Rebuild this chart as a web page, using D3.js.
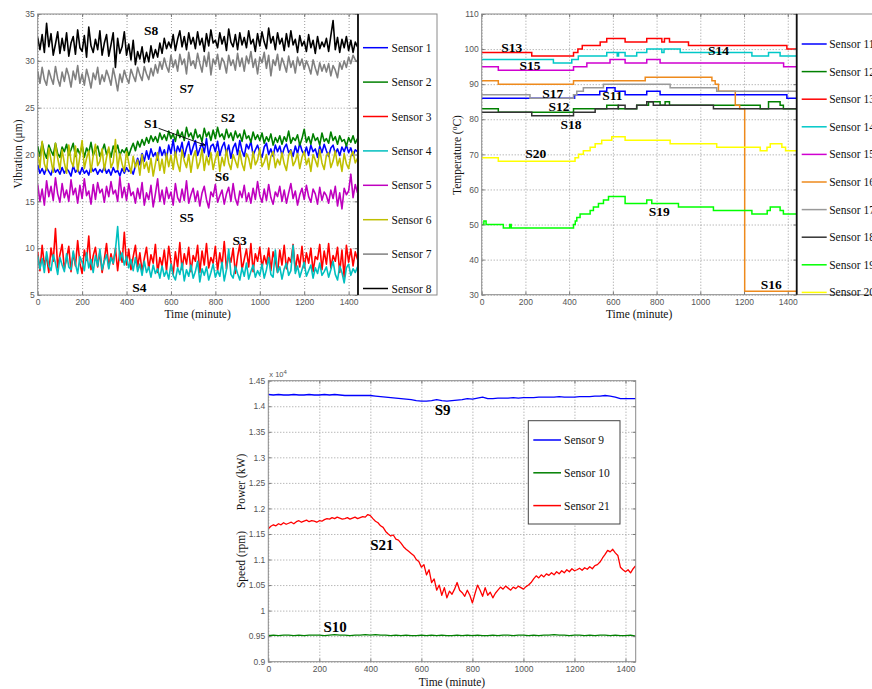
<!DOCTYPE html>
<html>
<head>
<meta charset="utf-8">
<script src="https://cdn.jsdelivr.net/npm/d3@7"></script>
<style>
body { margin: 0; background: #fff; }
svg { display: block; }
.grid line { stroke: #9a9a9a; stroke-dasharray: 1,2; }
.grid path { display: none; }
.axis path { display: none; }
.axis line { stroke: #777; }
.axis text { font: 8.5px "Liberation Sans", Arial, sans-serif; fill: #555; }
.axis-title { font: 11.5px "Liberation Serif", "Times New Roman", serif; fill: #111; }
.legend-text { font: 11.5px "Liberation Serif", "Times New Roman", serif; fill: #111; }
.note { font: bold 13.5px "Liberation Serif", "Times New Roman", serif; fill: #000; }
</style>
</head>
<body>
<svg id="chart" width="872" height="689"></svg>
<script>
'use strict';

// sampling interval (minutes) of the noisy series
const VIB_STEP = 10;
const SPEED_STEP = 10;
const POWER_STEP = 20;

const timeTicks = [0, 200, 400, 600, 800, 1000, 1200, 1400];
const vibTicks = [5, 10, 15, 20, 25, 30, 35];
const tempTicks = [30, 40, 50, 60, 70, 80, 90, 100, 110];
const powerTicks = [0.9, 0.95, 1, 1.05, 1.1, 1.15, 1.2, 1.25, 1.3, 1.35, 1.4, 1.45];

// vibration (um), one value every 10 minutes
const sensor1 = [
    18.9, 18.0, 18.5, 17.9, 18.6, 18.2, 17.8, 18.7, 18.1, 18.4,
    17.9, 18.6, 18.0, 18.5, 18.2, 17.7, 18.8, 18.1, 18.4, 17.9,
    18.6, 18.0, 18.3, 17.8, 18.7, 18.2, 18.5, 17.9, 18.4, 18.1,
    18.7, 18.0, 18.4, 17.8, 18.6, 18.1, 18.3, 17.7, 18.5, 18.0,
    18.6, 18.2, 18.4, 17.9, 18.8, 19.6, 18.9, 20.1, 19.3, 20.4,
    19.5, 20.6, 19.8, 20.2, 19.4, 20.8, 19.9, 20.5, 19.6, 21.0,
    20.1, 21.6, 19.8, 20.9, 20.3, 21.3, 19.7, 20.7, 21.4, 20.0,
    20.8, 21.5, 19.9, 20.6, 21.2, 20.2, 21.7, 19.8, 20.9, 21.1,
    20.3, 21.4, 19.9, 20.8, 21.3, 20.1, 21.0, 19.6, 20.7, 21.2,
    20.0, 21.5, 20.4, 19.8, 21.1, 20.6, 21.4, 19.9, 20.5, 21.0,
    20.2, 19.7, 20.8, 21.2, 20.0, 20.6, 19.8, 21.0, 20.3, 20.9,
    19.9, 20.7, 21.1, 20.2, 20.5, 19.8, 20.9, 20.1, 21.2, 20.4,
    20.0, 20.8, 19.9, 21.0, 20.3, 20.6, 19.7, 20.9, 20.2, 21.1,
    20.4, 19.8, 20.7, 21.0, 20.1, 20.6, 19.9, 20.8, 20.3, 21.0,
    20.2, 20.7, 19.9, 20.5, 20.3
];
const sensor2 = [
    20.9, 19.8, 21.3, 20.2, 19.6, 21.0, 20.4, 19.9, 21.2, 20.1,
    19.7, 20.8, 20.3, 21.1, 19.9, 20.5, 21.2, 19.8, 20.6, 20.0,
    21.0, 19.7, 20.7, 20.2, 21.3, 19.9, 20.5, 20.9, 19.8, 20.4,
    21.1, 20.0, 20.6, 19.7, 20.9, 20.3, 21.0, 19.9, 20.5, 20.2,
    20.7, 19.9, 20.6, 21.2, 20.4, 21.4, 20.8, 21.6, 21.0, 21.8,
    21.2, 22.0, 21.4, 21.9, 21.3, 22.3, 21.6, 22.1, 21.5, 22.5,
    21.7, 22.2, 21.4, 22.6, 21.8, 22.4, 21.5, 22.9, 21.9, 22.3,
    21.6, 22.7, 21.8, 22.1, 21.4, 22.8, 21.9, 22.4, 21.5, 22.6,
    21.7, 22.9, 21.9, 22.2, 21.6, 22.7, 21.8, 22.3, 21.5, 22.5,
    21.8, 22.2, 21.4, 22.6, 21.7, 22.0, 21.3, 22.4, 21.6, 22.1,
    21.5, 22.3, 21.2, 21.9, 21.4, 22.2, 21.0, 21.8, 21.3, 22.0,
    21.1, 21.9, 21.4, 22.5, 21.2, 21.8, 21.5, 22.1, 21.0, 21.7,
    22.7, 21.3, 21.9, 21.1, 22.2, 21.5, 21.8, 21.0, 22.3, 21.4,
    21.7, 21.2, 22.4, 21.5, 21.9, 21.1, 22.0, 21.4, 21.6, 20.9,
    21.8, 21.3, 22.0, 21.2, 21.7
];
const sensor3 = [
    9.6, 7.6, 10.3, 8.2, 9.1, 7.4, 10.0, 8.6, 12.1, 7.9,
    9.3, 10.4, 7.8, 8.9, 10.2, 7.5, 9.5, 8.1, 10.8, 8.4,
    7.3, 9.8, 8.7, 11.3, 7.7, 9.2, 10.1, 8.0, 9.6, 7.4,
    8.8, 10.5, 7.9, 9.4, 8.3, 10.0, 7.6, 9.7, 8.5, 11.7,
    8.2, 9.9, 7.7, 9.1, 10.3, 8.0, 9.5, 7.5, 8.9, 10.1,
    7.8, 9.3, 8.4, 10.4, 7.4, 9.0, 8.1, 9.8, 7.6, 10.2,
    8.5, 7.2, 9.6, 8.0, 10.6, 7.7, 9.4, 8.3, 10.1, 7.5,
    9.2, 8.6, 10.3, 7.4, 9.7, 8.2, 10.5, 7.9, 9.0, 8.4,
    10.2, 7.6, 9.5, 8.1, 10.7, 7.8, 9.3, 8.5, 10.0, 7.3,
    9.1, 10.4, 7.7, 8.8, 9.9, 8.0, 10.5, 7.5, 9.4, 8.6,
    10.1, 7.9, 9.2, 8.3, 10.0, 7.6, 9.6, 8.7, 7.4, 9.8,
    8.2, 10.3, 7.8, 9.0, 8.5, 10.4, 7.6, 9.3, 8.0, 10.2,
    7.9, 9.5, 8.4, 10.0, 7.5, 9.1, 8.8, 10.4, 7.7, 9.7,
    8.3, 10.5, 7.9, 9.2, 8.6, 10.1, 7.4, 9.8, 6.9, 10.3,
    8.5, 9.9, 8.1, 9.6, 8.8
];
const sensor4 = [
    9.2, 7.8, 8.9, 7.4, 9.6, 8.1, 7.6, 9.3, 8.4, 7.2,
    9.0, 8.2, 7.5, 9.4, 8.0, 7.7, 9.7, 8.3, 7.3, 9.1,
    8.5, 7.6, 9.5, 7.9, 8.8, 7.4, 9.2, 8.1, 9.9, 7.7,
    8.6, 9.3, 7.8, 9.0, 8.4, 9.8, 12.3, 8.7, 9.5, 8.2,
    9.1, 7.9, 8.8, 7.6, 9.0, 7.5, 8.3, 7.1, 8.6, 7.4,
    8.0, 6.9, 8.2, 7.3, 7.8, 6.8, 8.1, 7.0, 7.6, 6.7,
    8.3, 7.1, 6.6, 7.9, 7.2, 8.4, 6.5, 7.7, 7.0, 8.2,
    6.8, 7.5, 8.6, 6.4, 7.8, 7.1, 8.0, 6.6, 7.4, 8.3,
    6.9, 7.6, 7.0, 8.5, 6.5, 7.7, 9.9, 7.2, 6.8, 8.1,
    7.3, 6.6, 7.9, 7.0, 8.4, 6.7, 7.5, 8.2, 6.9, 7.6,
    7.1, 8.3, 6.8, 7.7, 9.0, 7.2, 6.9, 9.8, 7.4, 8.0,
    6.7, 7.8, 8.4, 7.1, 7.6, 10.3, 7.3, 8.1, 6.9, 7.7,
    8.5, 7.0, 7.6, 8.2, 6.8, 7.9, 7.3, 8.4, 7.1, 7.5,
    8.0, 6.9, 7.7, 8.6, 7.2, 6.6, 8.1, 7.4, 6.3, 7.9,
    8.3, 7.1, 7.8, 7.4, 8.0
];
const sensor5 = [
    16.8, 15.0, 16.3, 14.6, 17.2, 15.5, 16.6, 15.1, 17.5, 15.8,
    14.9, 16.9, 15.4, 16.2, 15.0, 17.3, 15.7, 16.4, 14.8, 16.7,
    15.3, 17.4, 15.6, 16.1, 14.7, 16.8, 15.2, 17.0, 15.9, 16.3,
    14.9, 16.6, 15.5, 17.1, 15.8, 16.2, 15.0, 17.6, 15.4, 16.5,
    15.1, 16.9, 15.6, 16.0, 14.8, 16.4, 15.3, 17.0, 14.6, 15.9,
    15.2, 16.7, 14.4, 15.8, 17.4, 15.0, 16.2, 14.7, 16.5, 15.3,
    16.0, 14.6, 16.9, 15.4, 14.9, 16.3, 15.1, 17.2, 14.8, 15.7,
    16.4, 15.0, 16.1, 14.5, 15.9, 16.6, 15.2, 14.3, 16.0, 15.5,
    16.8, 14.9, 15.6, 16.2, 14.7, 15.8, 16.5, 15.0, 16.9, 15.3,
    14.6, 16.1, 15.4, 16.7, 15.0, 15.9, 14.8, 16.4, 15.2, 17.1,
    15.6, 14.9, 16.3, 15.1, 16.8, 15.4, 14.7, 16.0, 15.5, 16.6,
    15.0, 16.2, 14.8, 15.9, 16.9, 15.3, 16.1, 14.6, 15.7, 16.4,
    15.2, 16.7, 15.5, 14.9, 16.3, 15.8, 14.7, 16.5, 15.1, 16.0,
    15.6, 14.8, 16.2, 15.3, 16.6, 14.5, 15.9, 14.2, 16.4, 15.7,
    16.1, 17.9, 15.4, 16.8, 15.9
];
const sensor6 = [
    20.2, 18.6, 21.4, 19.0, 18.3, 20.7, 19.4, 18.1, 21.2, 19.6,
    18.4, 20.5, 19.1, 18.0, 21.0, 19.3, 18.7, 20.9, 18.2, 19.8,
    21.5, 18.5, 19.6, 20.4, 18.1, 19.9, 21.1, 18.8, 19.3, 20.6,
    18.3, 19.7, 20.8, 18.6, 19.2, 21.6, 18.4, 20.1, 19.0, 18.2,
    20.3, 19.1, 18.0, 19.8, 18.6, 19.4, 17.8, 20.0, 18.5, 19.2,
    18.1, 19.6, 17.7, 19.0, 20.2, 18.3, 19.5, 18.0, 20.1, 18.7,
    19.9, 18.4, 20.3, 19.0, 18.2, 20.5, 19.3, 18.6, 20.0, 18.1,
    19.7, 20.4, 18.5, 19.2, 20.6, 18.3, 19.8, 18.9, 20.2, 18.4,
    19.5, 20.3, 18.2, 19.7, 18.8, 20.5, 19.1, 18.4, 20.0, 19.3,
    18.6, 20.4, 19.0, 18.3, 20.1, 19.6, 18.5, 20.3, 18.9, 19.4,
    20.6, 18.7, 19.2, 20.0, 18.4, 19.8, 20.3, 18.6, 19.5, 18.9,
    20.2, 19.0, 18.3, 19.9, 20.4, 18.8, 19.3, 20.1, 18.5, 19.7,
    20.3, 18.9, 19.6, 18.2, 20.0, 19.4, 18.7, 20.5, 19.1, 18.4,
    19.9, 20.2, 18.6, 19.3, 20.4, 18.8, 19.6, 18.2, 20.1, 19.0,
    18.5, 19.8, 20.3, 19.1, 19.6
];
const sensor7 = [
    28.9, 27.6, 29.3, 28.0, 27.4, 29.0, 28.2, 27.5, 29.4, 28.1,
    27.3, 28.8, 27.8, 29.2, 28.4, 27.2, 28.9, 28.0, 29.5, 27.6,
    28.6, 27.4, 29.1, 28.2, 27.1, 28.7, 28.0, 29.3, 27.5, 28.5,
    27.8, 29.0, 28.3, 27.4, 29.2, 28.1, 26.8, 28.6, 27.7, 29.0,
    28.2, 27.6, 29.1, 28.4, 27.8, 29.3, 28.5, 27.9, 29.4, 28.6,
    28.0, 29.2, 28.4, 29.6, 28.7, 29.9, 29.1, 30.3, 29.4, 28.8,
    30.6, 29.3, 30.1, 28.9, 30.7, 29.6, 30.2, 28.6, 30.9, 29.5,
    30.0, 29.2, 30.8, 29.7, 28.8, 30.5, 29.4, 30.9, 28.5, 30.2,
    29.6, 30.7, 29.1, 30.3, 29.8, 28.7, 30.6, 29.5, 30.1, 29.0,
    30.8, 29.4, 30.3, 28.9, 30.5, 29.7, 31.0, 29.3, 30.2, 28.6,
    30.4, 29.8, 30.9, 29.2, 30.6, 28.4, 30.1, 29.5, 30.7, 29.0,
    30.3, 29.6, 28.8, 30.5, 29.3, 30.0, 28.7, 30.4, 29.5, 30.2,
    29.1, 30.0, 29.4, 28.6, 30.1, 29.2, 28.5, 29.8, 28.9, 29.6,
    28.8, 29.7, 28.4, 29.5, 29.0, 28.2, 29.8, 29.1, 30.0, 29.3,
    30.4, 29.7, 30.6, 30.1, 29.9
];
const sensor8 = [
    32.5, 31.2, 32.8, 30.9, 34.0, 31.5, 32.9, 30.6, 31.8, 33.1,
    30.8, 32.4, 31.1, 33.0, 30.5, 31.9, 32.6, 30.7, 33.3, 31.4,
    31.0, 32.7, 30.4, 33.6, 31.6, 30.9, 32.3, 31.2, 33.2, 30.6,
    31.9, 32.8, 30.5, 31.7, 33.0, 29.3, 32.4, 30.8, 31.5, 33.1,
    30.6, 31.8, 30.1, 32.2, 29.6, 31.0, 30.2, 31.5, 29.8, 30.9,
    29.9, 31.6, 30.3, 31.2, 30.4, 31.9, 30.8, 32.4, 31.3, 32.0,
    31.4, 32.8, 31.1, 32.3, 33.2, 31.5, 32.6, 31.2, 33.0, 31.8,
    32.5, 31.3, 33.1, 31.7, 32.4, 31.0, 32.9, 31.6, 33.3, 31.9,
    32.2, 31.4, 33.0, 31.8, 32.6, 31.1, 33.4, 32.0, 31.5, 32.8,
    31.2, 33.0, 31.7, 32.5, 31.4, 33.2, 31.8, 32.3, 31.0, 32.9,
    31.6, 33.1, 32.0, 31.3, 33.5, 31.9, 32.6, 31.2, 33.0, 31.8,
    32.4, 31.1, 32.9, 31.5, 33.2, 31.7, 32.3, 30.9, 32.7, 31.6,
    32.1, 31.0, 32.8, 31.4, 32.2, 30.8, 32.6, 31.3, 32.0, 31.5,
    32.4, 31.0, 32.7, 34.3, 31.2, 32.5, 30.9, 32.3, 31.4, 32.6,
    31.1, 32.2, 30.9, 32.0, 31.5
];

// temperature (deg C) steps: [minute, value]
const sensor11 = [[0, 86], [425, 87], [540, 88], [572, 89], [610, 88], [656, 87], [755, 88], [816, 87], [1396, 86], [1440, 86]];
const sensor12 = [[0, 83], [76, 82], [420, 83], [572, 84], [625, 83], [709, 84], [763, 85], [816, 84], [839, 85], [859, 84], [1274, 83], [1312, 85], [1365, 84], [1380, 83], [1440, 83]];
const sensor13 = [[0, 99], [229, 98], [420, 99], [440, 100], [460, 101], [542, 102], [572, 103], [656, 102], [755, 103], [824, 102], [836, 103], [859, 102], [946, 101], [1396, 100], [1440, 100]];
const sensor14 = [[0, 97], [328, 96], [412, 97], [442, 98], [572, 99], [620, 98], [626, 99], [656, 98], [709, 99], [755, 100], [824, 99], [834, 100], [908, 99], [1236, 98], [1312, 99], [1365, 98], [1440, 98]];
const sensor15 = [[0, 95], [76, 94], [420, 95], [481, 96], [587, 97], [656, 96], [755, 97], [816, 96], [1381, 95], [1440, 95]];
const sensor16 = [[0, 91], [76, 90], [420, 91], [748, 92], [1053, 91], [1068, 90], [1083, 88], [1160, 84], [1180, 83], [1203, 31], [1440, 31]];
const sensor17 = [[0, 87], [221, 86], [420, 87], [435, 88], [465, 89], [557, 90], [862, 89], [1075, 88], [1440, 88]];
const sensor18 = [[0, 82], [229, 81], [420, 82], [519, 83], [625, 84], [656, 83], [709, 84], [755, 85], [785, 84], [1060, 83], [1440, 83]];
const sensor19 = [[0, 50], [10, 51], [20, 50], [99, 49], [128, 50], [135, 49], [420, 50], [428, 51], [435, 52], [450, 53], [496, 54], [511, 55], [534, 56], [557, 57], [580, 58], [656, 56], [755, 57], [778, 56], [900, 55], [1060, 54], [1236, 53], [1306, 54], [1320, 55], [1365, 54], [1380, 53], [1440, 53]];
const sensor20 = [[0, 69], [76, 68], [427, 69], [443, 70], [465, 71], [496, 72], [519, 73], [549, 74], [595, 75], [656, 74], [862, 73], [1075, 72], [1274, 71], [1305, 72], [1320, 73], [1373, 72], [1390, 71], [1440, 71]];

// power / speed (x 10^4)
const sensor9 = [
    1.423, 1.422, 1.423, 1.422, 1.422, 1.423, 1.422, 1.422, 1.423, 1.422,
    1.422, 1.423, 1.422, 1.423, 1.422, 1.421, 1.421, 1.421, 1.421, 1.421,
    1.421, 1.420, 1.419, 1.418, 1.417, 1.416, 1.415, 1.414, 1.413, 1.411,
    1.410, 1.410, 1.411, 1.413, 1.411, 1.410, 1.411, 1.412, 1.413, 1.415,
    1.414, 1.416, 1.418, 1.415, 1.415, 1.416, 1.416, 1.416, 1.417, 1.416,
    1.417, 1.417, 1.417, 1.418, 1.418, 1.418, 1.418, 1.419, 1.418, 1.418,
    1.418, 1.419, 1.419, 1.419, 1.420, 1.420, 1.421, 1.420, 1.418, 1.415,
    1.415, 1.415, 1.415
];
const sensor10 = [
    0.951, 0.952, 0.951, 0.952, 0.952, 0.951, 0.952, 0.951, 0.952, 0.952,
    0.952, 0.951, 0.952, 0.953, 0.952, 0.952, 0.951, 0.952, 0.952, 0.953,
    0.952, 0.953, 0.952, 0.952, 0.951, 0.952, 0.951, 0.952, 0.951, 0.951,
    0.952, 0.951, 0.952, 0.951, 0.952, 0.951, 0.951, 0.952, 0.951, 0.952,
    0.951, 0.952, 0.951, 0.951, 0.952, 0.951, 0.952, 0.952, 0.951, 0.952,
    0.952, 0.951, 0.952, 0.951, 0.952, 0.952, 0.953, 0.952, 0.952, 0.951,
    0.952, 0.952, 0.951, 0.952, 0.951, 0.952, 0.952, 0.951, 0.952, 0.951,
    0.951, 0.952, 0.950
];
const sensor21 = [
    1.160, 1.165, 1.168, 1.166, 1.170, 1.168, 1.172, 1.169, 1.171, 1.173,
    1.170, 1.174, 1.176, 1.173, 1.175, 1.177, 1.174, 1.176, 1.175, 1.173,
    1.176, 1.175, 1.178, 1.180, 1.179, 1.182, 1.180, 1.183, 1.181, 1.179,
    1.180, 1.182, 1.179, 1.181, 1.183, 1.180, 1.182, 1.184, 1.183, 1.188,
    1.186, 1.180, 1.175, 1.172, 1.166, 1.163, 1.155, 1.150, 1.146, 1.148,
    1.140, 1.138, 1.132, 1.125, 1.120, 1.116, 1.112, 1.108, 1.100, 1.096,
    1.085, 1.090, 1.070, 1.080, 1.055, 1.062, 1.040, 1.050, 1.030, 1.045,
    1.025, 1.038, 1.032, 1.042, 1.055, 1.040, 1.035, 1.028, 1.040, 1.030,
    1.015, 1.033, 1.050, 1.040, 1.028, 1.045, 1.030, 1.036, 1.025, 1.034,
    1.040, 1.046, 1.042, 1.048, 1.044, 1.040, 1.046, 1.043, 1.048, 1.045,
    1.042, 1.047, 1.050, 1.055, 1.062, 1.068, 1.064, 1.070, 1.066, 1.072,
    1.069, 1.074, 1.070, 1.076, 1.072, 1.078, 1.074, 1.080, 1.076, 1.082,
    1.078, 1.080, 1.083, 1.079, 1.084, 1.081, 1.086, 1.082, 1.088, 1.090,
    1.095, 1.103, 1.110, 1.118, 1.115, 1.120, 1.113, 1.108, 1.085, 1.080,
    1.076, 1.080, 1.074, 1.082, 1.088
];

const vibNames = ['Sensor 1', 'Sensor 2', 'Sensor 3', 'Sensor 4', 'Sensor 5', 'Sensor 6', 'Sensor 7', 'Sensor 8'];
const vibColors = ['#0000ff', '#008000', '#ff0000', '#00bfbf', '#bf00bf', '#bfbf00', '#808080', '#000000'];
const tempNames = ['Sensor 11', 'Sensor 12', 'Sensor 13', 'Sensor 14', 'Sensor 15', 'Sensor 16', 'Sensor 17', 'Sensor 18', 'Sensor 19', 'Sensor 20'];
const tempColors = ['#0000ff', '#008000', '#ff0000', '#00c8c8', '#d000d0', '#ee8a1c', '#999999', '#333333', '#00ff00', '#ffff00'];
const powerNames = ['Sensor 9', 'Sensor 10', 'Sensor 21'];
const powerColors = ['#0000ff', '#008000', '#ff0000'];

// labels: [text, minute, value]
const vibNotes = [['S8', 511, 33.3], ['S7', 671, 27.05], ['S1', 511, 23.3], ['S2', 856, 24.0], ['S6', 829, 17.7], ['S5', 671, 13.3], ['S3', 909, 10.85], ['S4', 458, 5.8]];
const tempNotes = [['S13', 137, 100.4], ['S15', 221, 95.5], ['S14', 1083, 99.7], ['S17', 325, 87.4], ['S11', 598, 86.9], ['S12', 354, 83.6], ['S18', 409, 78.6], ['S20', 247, 70.3], ['S19', 812, 53.8], ['S16', 1324, 33.0]];
const powerNotes = [['S9', 683, 1.3926], ['S21', 445, 1.1297], ['S10', 262, 0.9685]];

const svg = d3.select('#chart');
let clipCount = 0;

init();

function init() {
    svg.append('defs').append('marker')
        .attr('id', 'arrow')
        .attr('viewBox', '0 0 10 10')
        .attr('refX', 10).attr('refY', 5)
        .attr('markerWidth', 6).attr('markerHeight', 6)
        .attr('orient', 'auto')
        .append('path').attr('d', 'M0,1L10,5L0,9').attr('fill', 'none').attr('stroke', '#000').attr('stroke-width', 1.4);

    vibrationPanel();
    temperaturePanel();
    powerPanel();
}

function vibrationPanel() {
    const box = {left: 37.7, right: 357.5, top: 14, bottom: 295};
    const p = frame(box, [5, 35], vibTicks, d => d);
    const series = [sensor1, sensor2, sensor3, sensor4, sensor5, sensor6, sensor7, sensor8];

    series.forEach((values, i) => sampledLine(p, values, VIB_STEP, vibColors[i], 1.6));
    notes(p, vibNotes, 13.5);

    // arrow from the S1 label to its trace
    p.top.append('line')
        .attr('x1', p.x(544)).attr('y1', p.y(22.8))
        .attr('x2', p.x(754)).attr('y2', p.y(21.0))
        .attr('stroke', '#000').attr('stroke-width', 0.9)
        .attr('marker-end', 'url(#arrow)');

    legend({x: 358, y: 14, w: 79, h: 281, rowY: 33.7, gap: 34.4, lineFrom: 5, lineTo: 30, textAt: 33.5, darkLeft: true},
        vibNames, vibColors);

    axisTitles(box, 'Vibration (\u03bcm)', 21.5, 154, 318);
}

function temperaturePanel() {
    const box = {left: 481.7, right: 796.5, top: 14, bottom: 294.7};
    const p = frame(box, [30, 110], tempTicks, d => d);
    const series = [sensor11, sensor12, sensor13, sensor14, sensor15, sensor16, sensor17, sensor18, sensor19, sensor20];

    series.forEach((points, i) => stepLine(p, points, tempColors[i]));
    notes(p, tempNotes, 13.5);

    legend({x: 796.7, y: 14, w: 100, h: 280.7, rowY: 30, gap: 27.6, lineFrom: 5, lineTo: 30, textAt: 32.5, darkLeft: true},
        tempNames, tempColors);

    axisTitles(box, null, 461, 155, 318);
    const t = svg.append('text')
        .attr('class', 'axis-title')
        .attr('text-anchor', 'middle')
        .attr('transform', 'translate(461,155) rotate(-90)');
    t.append('tspan').text('Temperature (');
    t.append('tspan').attr('baseline-shift', 'super').attr('font-size', '7.5px').text('o');
    t.append('tspan').text('C)');
}

function powerPanel() {
    const box = {left: 268.3, right: 635.7, top: 380.7, bottom: 661.7};
    const p = frame(box, [0.9, 1.45], powerTicks, d => String(+d.toFixed(2)));

    sampledLine(p, sensor9, POWER_STEP, powerColors[0], 1.3);
    sampledLine(p, sensor10, POWER_STEP, powerColors[1], 1.1);
    sampledLine(p, sensor21, SPEED_STEP, powerColors[2], 1.3);
    notes(p, powerNotes, 15);

    legend({x: 528.3, y: 420.7, w: 91.7, h: 103.3, rowY: 19.3, gap: 32.8, lineFrom: 5, lineTo: 32.7, textAt: 35.7, darkLeft: false},
        powerNames, powerColors);

    axisTitles(box, null, 0, 0, 685.5);
    [['Power (kW)', 482], ['Speed (rpm)', 559.5]].forEach(([label, cy]) => {
        svg.append('text')
            .attr('class', 'axis-title')
            .attr('text-anchor', 'middle')
            .attr('transform', `translate(245,${cy}) rotate(-90)`)
            .text(label);
    });

    const exp = svg.append('text')
        .attr('x', box.left + 1).attr('y', box.top - 4)
        .attr('font-family', '"Liberation Sans", Arial, sans-serif')
        .attr('font-size', '7.5px').attr('fill', '#555');
    exp.append('tspan').text('x 10');
    exp.append('tspan').attr('dy', -3).attr('font-size', '6px').text('4');
}

function frame(box, yDomain, yTicks, yFormat) {
    const x = d3.scaleLinear().domain([0, 1440]).range([box.left, box.right]);
    const y = d3.scaleLinear().domain(yDomain).range([box.bottom, box.top]);
    const w = box.right - box.left;
    const h = box.bottom - box.top;
    const id = `clip-${++clipCount}`;

    svg.select('defs').append('clipPath').attr('id', id)
        .append('rect').attr('x', box.left).attr('y', box.top).attr('width', w).attr('height', h);

    // dotted grid
    svg.append('g').attr('class', 'grid')
        .attr('transform', `translate(0,${box.bottom})`)
        .call(d3.axisBottom(x).tickValues(timeTicks).tickSize(-h).tickFormat(''));
    svg.append('g').attr('class', 'grid')
        .attr('transform', `translate(${box.left},0)`)
        .call(d3.axisLeft(y).tickValues(yTicks).tickSize(-w).tickFormat(''));

    const plot = svg.append('g').attr('clip-path', `url(#${id})`);
    const top = svg.append('g');

    top.append('g').attr('class', 'axis')
        .attr('transform', `translate(0,${box.bottom})`)
        .call(d3.axisBottom(x).tickValues(timeTicks).tickSize(-3).tickPadding(4).tickFormat(d => String(d)));
    top.append('g').attr('class', 'axis')
        .attr('transform', `translate(0,${box.top})`)
        .call(d3.axisTop(x).tickValues(timeTicks).tickSize(-3).tickFormat(''));
    top.append('g').attr('class', 'axis')
        .attr('transform', `translate(${box.left},0)`)
        .call(d3.axisLeft(y).tickValues(yTicks).tickSize(-3).tickPadding(3).tickFormat(yFormat));
    top.append('g').attr('class', 'axis')
        .attr('transform', `translate(${box.right},0)`)
        .call(d3.axisRight(y).tickValues(yTicks).tickSize(-3).tickFormat(''));

    top.append('rect')
        .attr('x', box.left).attr('y', box.top).attr('width', w).attr('height', h)
        .attr('fill', 'none').attr('stroke', '#8a8a8a').attr('stroke-width', 1);

    return {x, y, plot, top};
}

function sampledLine(p, values, step, color, width) {
    const line = d3.line()
        .x((d, i) => p.x(i * step))
        .y(d => p.y(d));

    p.plot.append('path')
        .datum(values)
        .attr('d', line)
        .attr('fill', 'none')
        .attr('stroke', color)
        .attr('stroke-width', width)
        .attr('stroke-linejoin', 'round');
}

function stepLine(p, points, color) {
    const line = d3.line()
        .x(d => p.x(d[0]))
        .y(d => p.y(d[1]))
        .curve(d3.curveStepAfter);

    p.plot.append('path')
        .datum(points)
        .attr('d', line)
        .attr('fill', 'none')
        .attr('stroke', color)
        .attr('stroke-width', 1.5);
}

function notes(p, list, size) {
    p.top.selectAll(null).data(list).enter().append('text')
        .attr('class', 'note')
        .style('font-size', `${size}px`)
        .attr('x', d => p.x(d[1]))
        .attr('y', d => p.y(d[2]))
        .attr('dy', '0.35em')
        .attr('text-anchor', 'middle')
        .text(d => d[0]);
}

function legend(cfg, names, colors) {
    const g = svg.append('g').attr('transform', `translate(${cfg.x},${cfg.y})`);

    g.append('rect')
        .attr('width', cfg.w).attr('height', cfg.h)
        .attr('fill', '#fff')
        .attr('stroke', cfg.darkLeft ? '#8a8a8a' : '#444')
        .attr('stroke-width', 1);

    if (cfg.darkLeft) {
        g.append('line')
            .attr('x1', 0).attr('x2', 0).attr('y1', 0).attr('y2', cfg.h)
            .attr('stroke', '#111').attr('stroke-width', 1.8);
    }

    const rows = g.selectAll(null).data(names).enter().append('g')
        .attr('transform', (d, i) => `translate(0,${cfg.rowY + i * cfg.gap})`);

    rows.append('line')
        .attr('x1', cfg.lineFrom).attr('x2', cfg.lineTo)
        .attr('stroke', (d, i) => colors[i])
        .attr('stroke-width', 1.5);

    rows.append('text')
        .attr('class', 'legend-text')
        .attr('x', cfg.textAt)
        .attr('dy', '0.35em')
        .text(d => d);
}

function axisTitles(box, yTitle, yx, yy, xBaseline) {
    svg.append('text')
        .attr('class', 'axis-title')
        .attr('text-anchor', 'middle')
        .attr('x', (box.left + box.right) / 2)
        .attr('y', xBaseline)
        .text('Time (minute)');

    if (yTitle) {
        svg.append('text')
            .attr('class', 'axis-title')
            .attr('text-anchor', 'middle')
            .attr('transform', `translate(${yx},${yy}) rotate(-90)`)
            .text(yTitle);
    }
}
</script>
</body>
</html>
